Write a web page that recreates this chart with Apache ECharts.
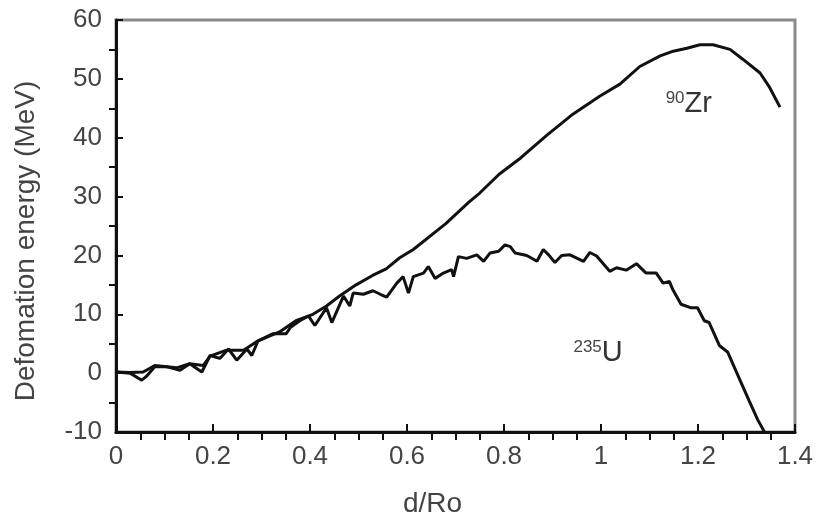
<!DOCTYPE html>
<html>
<head>
<meta charset="utf-8">
<script src="https://cdn.jsdelivr.net/npm/echarts@6/dist/echarts.min.js"></script>
<style>
  html, body { margin: 0; padding: 0; background: #fff; }
  #chart { width: 817px; height: 523px; }
</style>
</head>
<body>
<div id="chart"></div>
<script>
// 90Zr curve
const zrX = [0, 0.029, 0.056, 0.08, 0.125, 0.152, 0.18, 0.194, 0.228, 0.263, 0.293, 0.337, 0.371, 0.406, 0.434, 0.461, 0.495, 0.529, 0.557, 0.585, 0.613, 0.68, 0.727, 0.75, 0.79, 0.835, 0.888, 0.942, 0.998, 1.039, 1.08, 1.122, 1.149, 1.177, 1.204, 1.231, 1.266, 1.293, 1.328, 1.348, 1.369]
const zrY = [0.2, 0.1, 0.2, 1.3, 0.9, 1.6, 1.3, 2.9, 3.9, 3.9, 5.5, 7.0, 8.9, 10.0, 11.4, 13.1, 15.0, 16.6, 17.7, 19.6, 21.0, 25.4, 29.0, 30.6, 33.8, 36.6, 40.4, 44.0, 47.1, 49.1, 52.1, 53.9, 54.7, 55.2, 55.8, 55.8, 55.0, 53.3, 51.0, 48.5, 45.2]

// 235U curve (noisy)
const uX = [0, 0.029, 0.053, 0.062, 0.08, 0.104, 0.132, 0.152, 0.177, 0.194, 0.214, 0.232, 0.249, 0.27, 0.28, 0.293, 0.324, 0.351, 0.36, 0.379, 0.397, 0.41, 0.434, 0.445, 0.469, 0.482, 0.489, 0.51, 0.53, 0.545, 0.558, 0.579, 0.592, 0.603, 0.613, 0.634, 0.644, 0.658, 0.675, 0.692, 0.696, 0.706, 0.723, 0.744, 0.758, 0.771, 0.789, 0.802, 0.813, 0.823, 0.847, 0.868, 0.881, 0.892, 0.905, 0.919, 0.936, 0.964, 0.977, 0.991, 1.018, 1.032, 1.052, 1.073, 1.093, 1.114, 1.128, 1.141, 1.148, 1.165, 1.186, 1.199, 1.213, 1.223, 1.244, 1.261, 1.285, 1.306, 1.323, 1.337]
const uY = [0.2, 0.0, -1.2, -0.6, 1.1, 1.1, 0.5, 1.6, 0.2, 3.0, 2.5, 4.1, 2.2, 4.1, 3.0, 5.5, 6.7, 6.7, 7.8, 8.9, 9.7, 8.1, 11.1, 8.6, 13.1, 11.4, 13.6, 13.4, 14.0, 13.4, 12.9, 15.3, 16.4, 13.6, 16.4, 17.0, 18.1, 16.1, 17.0, 17.6, 16.4, 19.8, 19.5, 20.1, 19.0, 20.4, 20.7, 21.8, 21.5, 20.4, 20.0, 19.0, 21.0, 20.1, 18.8, 20.0, 20.1, 19.0, 20.5, 19.9, 17.3, 17.9, 17.5, 18.6, 17.0, 17.0, 15.3, 15.6, 14.2, 11.7, 11.1, 11.1, 8.9, 8.6, 4.7, 3.6, -0.9, -4.8, -7.9, -10]

// annotation positions (data coords)
const zrLabelAt = [1.181, 45.7]
const uLabelAt = [0.994, 3.4]

const pairs = (xs, ys) => xs.map((x, i) => [x, ys[i]])

const chart = echarts.init(document.getElementById('chart'))

const labelRich = {
  sup : { fontSize: 17, color: '#444', verticalAlign: 'top', fontFamily: 'Liberation Sans' },
  main: { fontSize: 29, color: '#333', fontFamily: 'Liberation Sans' }
}

chart.setOption({
  animation: false,
  grid: {
    left: 116,
    right: 22,
    top: 20,
    bottom: 85,
    show: true,
    borderColor: '#8a8a8a',
    borderWidth: 3
  },
  xAxis: {
    type: 'value',
    min: 0,
    max: 1.4,
    interval: 0.2,
    name: 'd/Ro',
    nameLocation: 'middle',
    nameGap: 58,
    nameTextStyle: { fontSize: 28, color: '#444', fontFamily: 'Liberation Sans', padding: [0, 46, 0, 0] },
    axisLine: { onZero: false, lineStyle: { color: '#111', width: 3 } },
    axisTick: { inside: true, length: 8, lineStyle: { color: '#111', width: 2 } },
    // minor ticks ignore "inside", so flip them with a negative length
    minorTick: { show: true, splitNumber: 4, length: -8, lineStyle: { color: '#111', width: 2 } },
    axisLabel: { fontSize: 26, color: '#444', margin: 12, fontFamily: 'Liberation Sans' },
    splitLine: { show: false }
  },
  yAxis: {
    type: 'value',
    min: -10,
    max: 60,
    interval: 10,
    name: 'Defomation energy (MeV)',
    nameLocation: 'middle',
    nameGap: 76,
    nameTextStyle: { fontSize: 28, color: '#444', fontFamily: 'Liberation Sans', padding: [0, 30, 0, 0] },
    axisLine: { onZero: false, lineStyle: { color: '#111', width: 3 } },
    axisTick: { inside: true, length: 7, lineStyle: { color: '#111', width: 2 } },
    minorTick: { show: true, splitNumber: 2, length: -7, lineStyle: { color: '#111', width: 2 } },
    axisLabel: { fontSize: 26, color: '#444', margin: 14, fontFamily: 'Liberation Sans' },
    splitLine: { show: false }
  },
  series: [
    {
      name: '90Zr',
      type: 'line',
      data: pairs(zrX, zrY),
      symbol: 'none',
      lineStyle: { color: '#111', width: 3 },
      markPoint: {
        symbol: 'circle',
        symbolSize: 0,
        data: [{ coord: zrLabelAt }],
        label: { show: true, position: 'inside', formatter: '{sup|90}{main|Zr}', rich: labelRich }
      }
    },
    {
      name: '235U',
      type: 'line',
      data: pairs(uX, uY),
      symbol: 'none',
      lineStyle: { color: '#111', width: 3 },
      markPoint: {
        symbol: 'circle',
        symbolSize: 0,
        data: [{ coord: uLabelAt }],
        label: { show: true, position: 'inside', formatter: '{sup|235}{main|U}', rich: labelRich }
      }
    }
  ]
})
</script>
</body>
</html>
